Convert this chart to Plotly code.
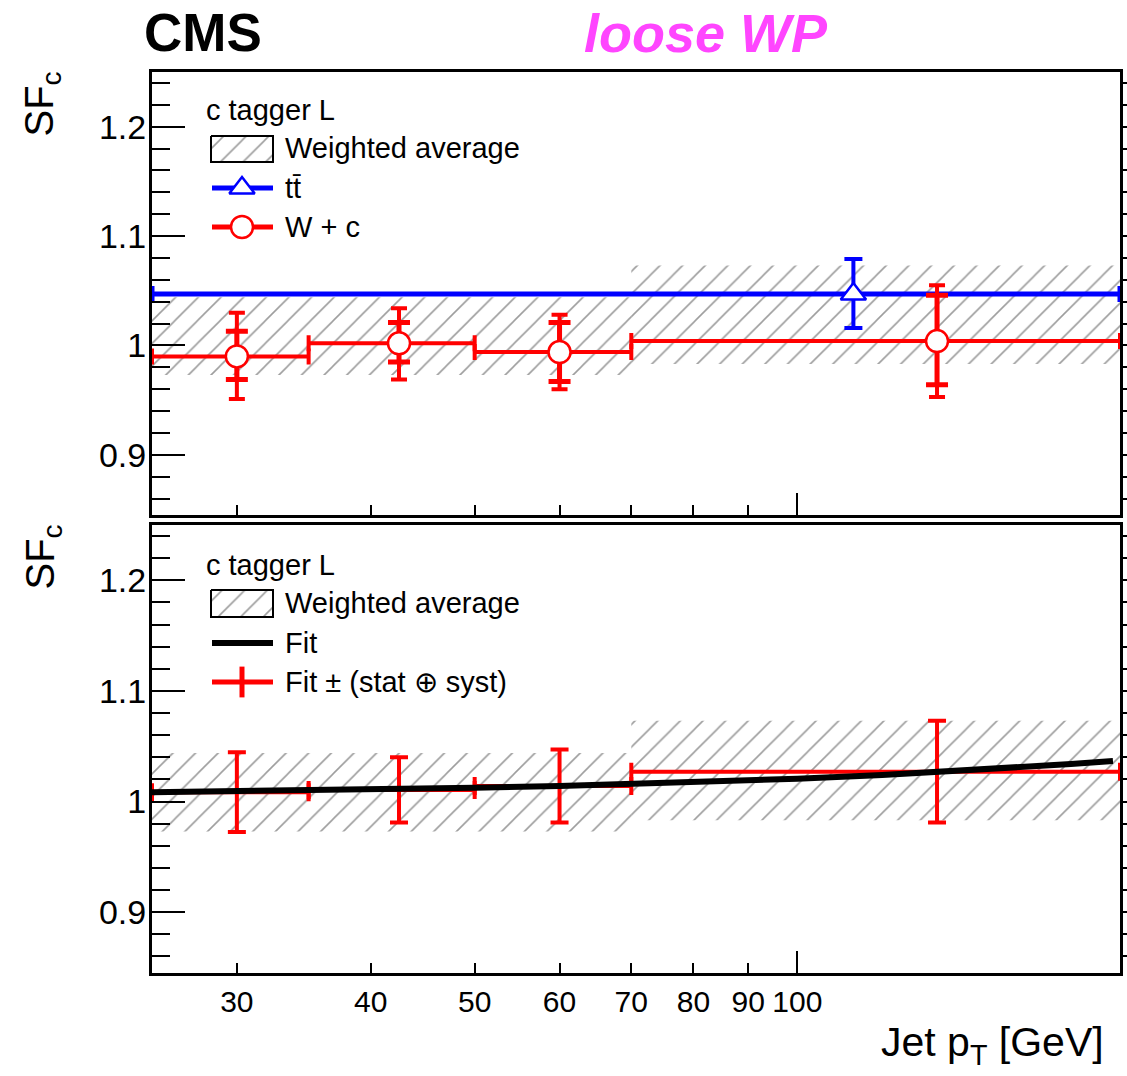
import math
import plotly.graph_objects as go

# ---------------- data ----------------
x_range = [25, 200]
y_range = [0.845, 1.25]

# weighted-average bands (same in both panels)
wavg_lo_edge = [25, 70]
wavg_hi_edge = [70, 200]
wavg_lo = [0.973, 0.983]
wavg_hi = [1.044, 1.073]

# W + c measurements (top panel)
wc_bin_lo = [25, 35, 50, 70]
wc_bin_hi = [35, 50, 70, 200]
wc_pt = [30, 42.5, 60, 135]
wc_sf = [0.990, 1.002, 0.994, 1.004]
wc_stat_up = [0.023, 0.019, 0.027, 0.042]
wc_stat_dn = [0.021, 0.017, 0.027, 0.040]
wc_tot_up = [0.040, 0.032, 0.034, 0.051]
wc_tot_dn = [0.039, 0.033, 0.034, 0.051]

# ttbar measurement (top panel)
tt_bin_lo = [25]
tt_bin_hi = [200]
tt_pt = [112.8]
tt_sf = [1.047]
tt_err_up = [0.032]
tt_err_dn = [0.031]

# fit curve (bottom panel)
fit_pt = [25, 30, 40, 50, 60, 70, 85, 100, 120, 135, 160, 180, 197]
fit_sf = [1.0085, 1.0092, 1.0108, 1.0125, 1.0141, 1.0158, 1.0182, 1.0207,
          1.0240, 1.0265, 1.0306, 1.0339, 1.0367]

# fit +- (stat (+) syst) per bin (bottom panel)
fe_bin_lo = [25, 35, 50, 70]
fe_bin_hi = [35, 50, 70, 200]
fe_pt = [30, 42.5, 60, 135]
fe_sf = [1.0085, 1.0105, 1.014, 1.027]
fe_err = [0.036, 0.0295, 0.033, 0.046]

# start of the next (cropped) panel's bins at the right edge
next_edge = [201.8]
tt_next = [0.932]
wc_next = [0.908]
fe_next = [0.921]

x_ticks = [30, 40, 50, 60, 70, 80, 90, 100]
x_ticktext = ["30", "40", "50", "60", "70", "80", "90", "100"]
x_long_tick = [100]

# ---------------- styling ----------------
FONT = "Liberation Sans, Arial, Helvetica, sans-serif"
RED = "#ff0000"
BLUE = "#0000ff"
HATCH = dict(shape="/", size=16, solidity=0.1, fgcolor="#3c3c3c",
             bgcolor="rgba(0,0,0,0)")

# plot-area geometry in pixels (for paper-referenced text)
PL, PR, PT, PB = 152, 1120, 72, 973


def px_x(px):
    return (px - PL) / (PR - PL)


def px_y(py):
    return (PB - py) / (PB - PT)


fig = go.Figure()


def add_bands(xa, ya):
    for lo_e, hi_e, lo, hi in zip(wavg_lo_edge, wavg_hi_edge, wavg_lo, wavg_hi):
        fig.add_trace(go.Scatter(
            x=[lo_e, hi_e, hi_e, lo_e, lo_e], y=[lo, lo, hi, hi, lo],
            mode="lines", fill="toself", fillcolor="rgba(0,0,0,0)",
            fillpattern=HATCH, line=dict(width=0, color="rgba(0,0,0,0)"),
            xaxis=xa, yaxis=ya, hoverinfo="skip", showlegend=False))


# ---------- top panel (x2, y2) ----------
add_bands("x2", "y2")

fig.add_trace(go.Scatter(
    x=tt_pt, y=tt_sf, mode="markers",
    marker=dict(symbol="triangle-up", size=22, color="white",
                line=dict(color=BLUE, width=2.5)),
    error_x=dict(type="data", symmetric=False,
                 array=[h - p for h, p in zip(tt_bin_hi, tt_pt)],
                 arrayminus=[p - l for l, p in zip(tt_bin_lo, tt_pt)],
                 color=BLUE, thickness=5, width=8),
    error_y=dict(type="data", symmetric=False, array=tt_err_up,
                 arrayminus=tt_err_dn, color=BLUE, thickness=4, width=9),
    xaxis="x2", yaxis="y2", showlegend=False))

fig.add_trace(go.Scatter(
    x=wc_pt, y=wc_sf, mode="markers",
    marker=dict(size=1, color="rgba(0,0,0,0)"),
    error_x=dict(type="data", symmetric=False,
                 array=[h - p for h, p in zip(wc_bin_hi, wc_pt)],
                 arrayminus=[p - l for l, p in zip(wc_bin_lo, wc_pt)],
                 color=RED, thickness=4, width=8),
    error_y=dict(type="data", symmetric=False, array=wc_tot_up,
                 arrayminus=wc_tot_dn, color=RED, thickness=4, width=8),
    xaxis="x2", yaxis="y2", showlegend=False))

fig.add_trace(go.Scatter(
    x=wc_pt, y=wc_sf, mode="markers",
    marker=dict(symbol="circle", size=22, color="white",
                line=dict(color=RED, width=2.5)),
    error_y=dict(type="data", symmetric=False, array=wc_stat_up,
                 arrayminus=wc_stat_dn, color=RED, thickness=5, width=11),
    xaxis="x2", yaxis="y2", showlegend=False))

# stubs of the neighbouring panel
fig.add_trace(go.Scatter(
    x=next_edge + next_edge, y=tt_next + wc_next, mode="markers",
    marker=dict(symbol="line-ns", size=16,
                line=dict(color=[BLUE, RED], width=5)),
    xaxis="x2", yaxis="y2", cliponaxis=False, showlegend=False,
    hoverinfo="skip"))

# ---------- bottom panel (x, y) ----------
add_bands("x", "y")

fig.add_trace(go.Scatter(
    x=fe_pt, y=fe_sf, mode="markers",
    marker=dict(size=1, color="rgba(0,0,0,0)"),
    error_x=dict(type="data", symmetric=False,
                 array=[h - p for h, p in zip(fe_bin_hi, fe_pt)],
                 arrayminus=[p - l for l, p in zip(fe_bin_lo, fe_pt)],
                 color=RED, thickness=4, width=9),
    error_y=dict(type="data", array=fe_err, color=RED, thickness=4, width=9),
    xaxis="x", yaxis="y", showlegend=False))

fig.add_trace(go.Scatter(
    x=fit_pt, y=fit_sf, mode="lines", line=dict(color="black", width=6),
    xaxis="x", yaxis="y", showlegend=False, hoverinfo="skip"))

fig.add_trace(go.Scatter(
    x=next_edge, y=fe_next, mode="markers",
    marker=dict(symbol="line-ns", size=16, line=dict(color=RED, width=5)),
    xaxis="x", yaxis="y", cliponaxis=False, showlegend=False,
    hoverinfo="skip"))

# dummy traces so the overlay tick axes exist
fig.add_trace(go.Scatter(x=[], y=[], xaxis="x3", yaxis="y", showlegend=False))
fig.add_trace(go.Scatter(x=[], y=[], xaxis="x4", yaxis="y2", showlegend=False))
fig.add_trace(go.Scatter(x=[], y=[], xaxis="x", yaxis="y3", showlegend=False))
fig.add_trace(go.Scatter(x=[], y=[], xaxis="x2", yaxis="y4", showlegend=False))

# ---------- hand-drawn legends on a pixel helper axis (x5, y5) ----------
def legend_box(y0, y1):
    fig.add_trace(go.Scatter(
        x=[211, 273, 273, 211, 211], y=[y0, y0, y1, y1, y0], mode="lines",
        fill="toself", fillcolor="rgba(0,0,0,0)", fillpattern=HATCH,
        line=dict(color="black", width=2), xaxis="x5", yaxis="y5",
        showlegend=False, hoverinfo="skip"))


def legend_line(yc, color, width):
    fig.add_trace(go.Scatter(
        x=[212, 273], y=[yc, yc], mode="lines",
        line=dict(color=color, width=width), xaxis="x5", yaxis="y5",
        showlegend=False, hoverinfo="skip"))


legend_box(136, 162)
legend_line(188, BLUE, 5)
fig.add_trace(go.Scatter(
    x=[242], y=[188], mode="markers",
    marker=dict(symbol="triangle-up", size=22, color="white",
                line=dict(color=BLUE, width=2.5)),
    xaxis="x5", yaxis="y5", showlegend=False, hoverinfo="skip"))
legend_line(227, RED, 5)
fig.add_trace(go.Scatter(
    x=[242], y=[227], mode="markers",
    marker=dict(symbol="circle", size=22, color="white",
                line=dict(color=RED, width=2.5)),
    xaxis="x5", yaxis="y5", showlegend=False, hoverinfo="skip"))

legend_box(590, 617)
legend_line(643, "black", 6)
legend_line(682, RED, 5)
fig.add_trace(go.Scatter(
    x=[242], y=[682], mode="markers",
    marker=dict(symbol="line-ns", size=22, line=dict(color=RED, width=5)),
    xaxis="x5", yaxis="y5", showlegend=False, hoverinfo="skip"))

LEG = 29
ann = []


def text(x, y, s, size, xanchor="left", yanchor="middle", color="black", **kw):
    ann.append(dict(x=px_x(x), y=px_y(y), xref="paper", yref="paper", text=s,
                    showarrow=False, xanchor=xanchor, yanchor=yanchor,
                    font=dict(family=FONT, size=size, color=color), **kw))


text(204, 110, "c tagger L", LEG)
text(283, 148, "Weighted average", LEG)
text(283, 188, "tt\u0304", LEG)
text(283, 227, "W + c", LEG)

text(204, 565, "c tagger L", LEG)
text(283, 603, "Weighted average", LEG)
text(283, 643, "Fit", LEG)
text(283, 682, "Fit \u00b1 (stat \u2295 syst)", LEG)

text(142, 33, "<b>CMS</b>", 53)
text(582, 33, "<b><i>loose WP</i></b>", 54, color="#ff45ff")
text(42, 70, "SF<sub>c</sub>", 40, xanchor="center", yanchor="top", textangle=-90)
text(42, 523, "SF<sub>c</sub>", 40, xanchor="center", yanchor="top", textangle=-90)
text(1106, 1045, "Jet p<sub>T</sub> [GeV]", 41, xanchor="right")

# ---------------- layout ----------------
xr = [math.log10(x_range[0]), math.log10(x_range[1])]
top_dom = [0.5083, 1.0]
bot_dom = [0.0, 0.4972]

common_x = dict(type="log", range=xr, showgrid=False, zeroline=False,
                showline=True, mirror=True, linecolor="black", linewidth=3,
                tickmode="array", tickvals=x_ticks, ticktext=x_ticktext,
                ticks="inside", ticklen=10, tickwidth=2, tickcolor="black",
                tickfont=dict(family=FONT, size=30, color="black"))
common_y = dict(range=y_range, showgrid=False, zeroline=False, showline=True,
                mirror=True, linecolor="black", linewidth=3,
                tickmode="linear", tick0=0, dtick=0.1, ticks="inside",
                ticklen=33, tickwidth=2, tickcolor="black",
                ticklabelstandoff=-4,
                minor=dict(tickmode="linear", tick0=0, dtick=0.02,
                           ticks="inside", ticklen=18, tickwidth=2,
                           tickcolor="black", showgrid=False),
                tickfont=dict(family=FONT, size=34, color="black"))
long_x = dict(type="log", range=xr, showgrid=False, zeroline=False,
              showline=False, tickmode="array", tickvals=x_long_tick,
              ticks="inside", ticklen=22, tickwidth=2, tickcolor="black",
              showticklabels=False)
right_y = dict(range=y_range, showgrid=False, zeroline=False, showline=False,
               side="right", tickmode="linear", tick0=0, dtick=0.1,
               ticks="outside", ticklen=33, tickwidth=2, tickcolor="black",
               minor=dict(tickmode="linear", tick0=0, dtick=0.02,
                          ticks="outside", ticklen=18, tickwidth=2,
                          tickcolor="black", showgrid=False),
               showticklabels=False, automargin=False)

fig.update_layout(
    width=1127, height=1076,
    margin=dict(l=PL, r=1127 - PR, t=PT, b=1076 - PB, autoexpand=False),
    paper_bgcolor="white", plot_bgcolor="rgba(0,0,0,0)",
    showlegend=False,
    xaxis=dict(common_x, anchor="y", domain=[0, 1]),
    xaxis2=dict(common_x, anchor="y2", domain=[0, 1], showticklabels=False),
    xaxis3=dict(long_x, overlaying="x", anchor="y"),
    xaxis4=dict(long_x, overlaying="x2", anchor="y2"),
    yaxis=dict(common_y, anchor="x", domain=bot_dom),
    yaxis2=dict(common_y, anchor="x2", domain=top_dom),
    yaxis3=dict(right_y, overlaying="y", anchor="x"),
    yaxis4=dict(right_y, overlaying="y2", anchor="x2"),
    xaxis5=dict(domain=[0, 1], anchor="y5", range=[PL, PR], visible=False),
    yaxis5=dict(domain=[0, 1], anchor="x5", range=[PB, PT], visible=False),
    annotations=ann,
)

fig.write_html("out.html")
